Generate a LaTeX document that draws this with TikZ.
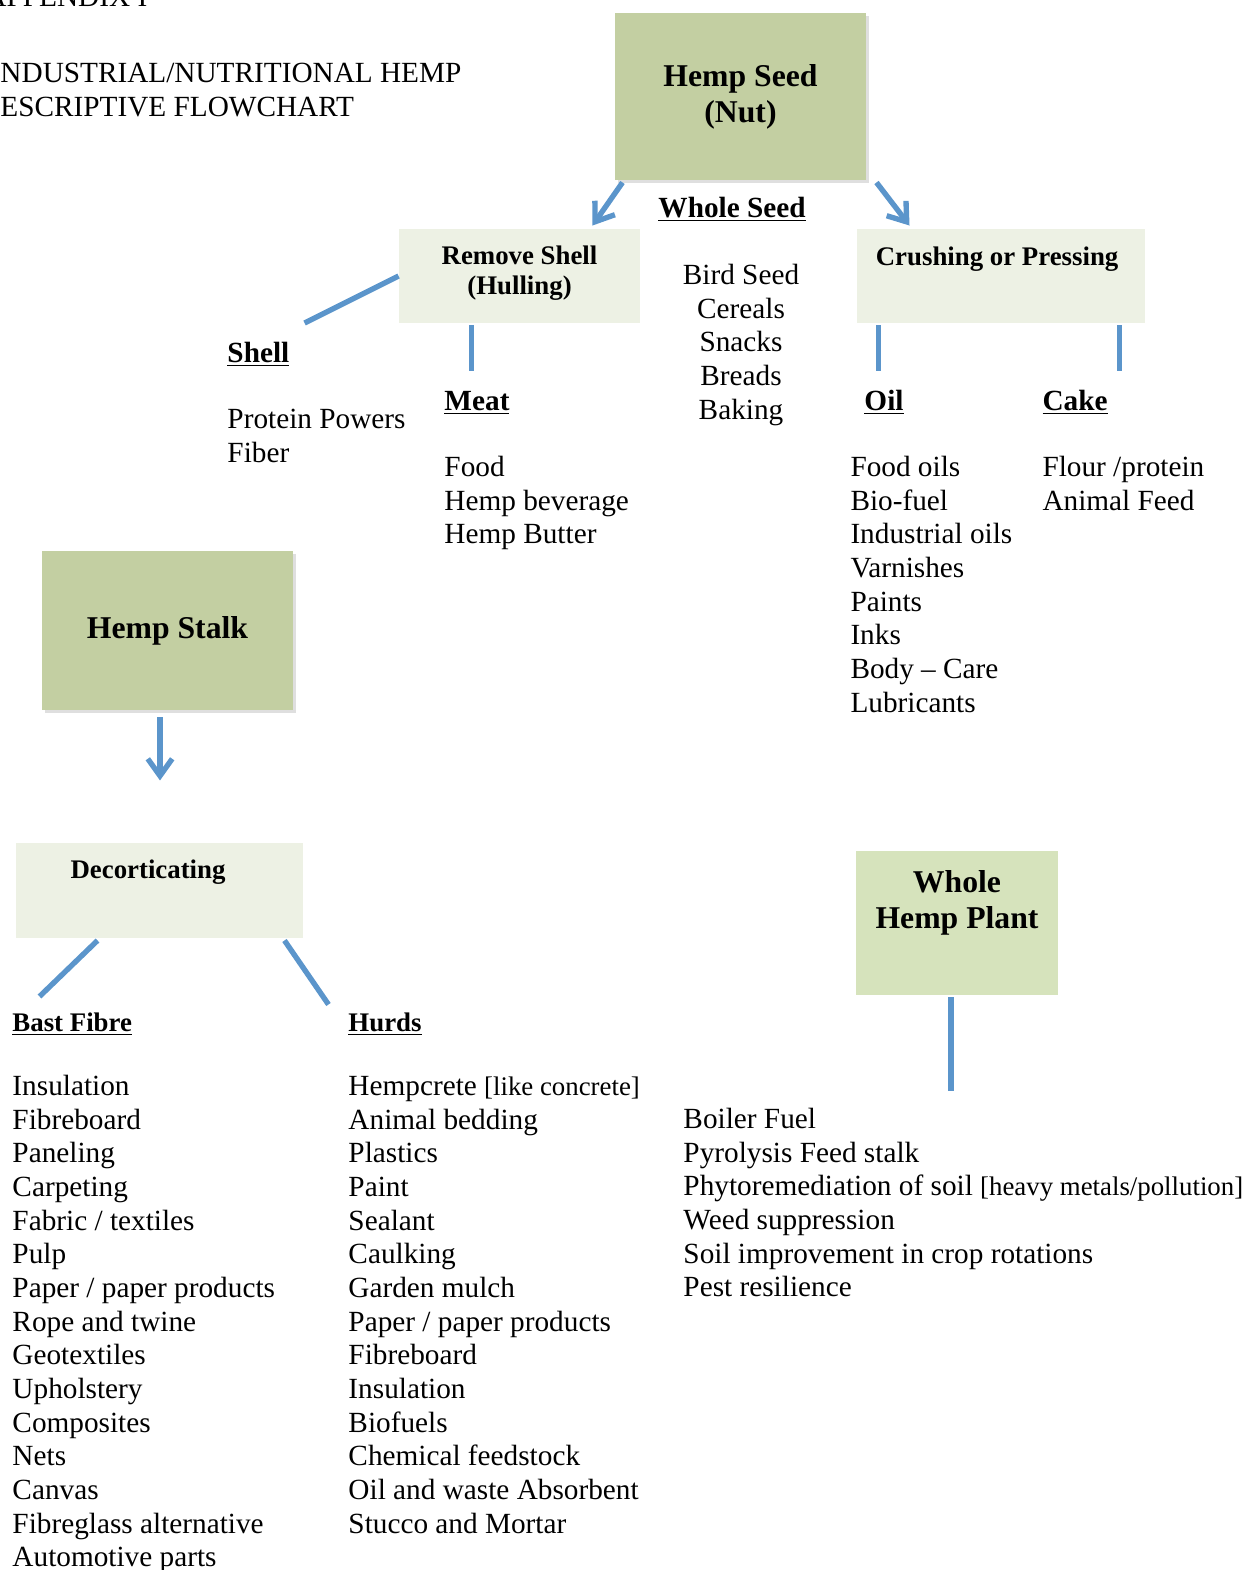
\documentclass[tikz,border=0pt]{standalone}
\usepackage{fontspec}
\setmainfont{Liberation Serif}
\usetikzlibrary{positioning,calc,arrows.meta,shadows}

\definecolor{seedgreen}{HTML}{C3CFA2}
\definecolor{palegreen}{HTML}{EDF1E4}
\definecolor{plantgreen}{HTML}{D6E3BC}
\definecolor{linkblue}{HTML}{5B95CB}
\def\pxu{0.41pt}

\begin{document}
\begin{tikzpicture}[x=0.41pt, y=-0.41pt,
    darkbox/.style={fill=seedgreen, inner sep=0pt, align=center,
      font=\fontsize{13}{14.8}\selectfont\bfseries,
      drop shadow={shadow xshift=1.2pt, shadow yshift=-1.2pt, opacity=0.25}},
    lightbox/.style={fill=palegreen, inner sep=0pt},
    plantbox/.style={fill=plantgreen, inner sep=0pt},
    boxlabel/.style={inner sep=0pt, align=center, font=\fontsize{11}{12.3}\selectfont\bfseries},
    biglabel/.style={inner sep=0pt, align=center, font=\fontsize{13}{14.8}\selectfont\bfseries},
    head/.style={anchor=base west, inner sep=0pt, font=\fontsize{12}{13.8}\selectfont\bfseries},
    smallhead/.style={head, font=\fontsize{11}{13.8}\selectfont\bfseries},
    items/.style={anchor=north west, inner sep=0pt, align=left, font=\fontsize{12}{13.8}\selectfont},
    title/.style={anchor=base west, inner sep=0pt, font=\fontsize{12}{14}\selectfont},
    link/.style={draw=linkblue, line width=2.2pt},
    arrowlink/.style={link, -{Straight Barb[length=7pt, width=10pt]}}]
  \useasboundingbox (0,0) rectangle (1246,1570);

  % title, cut at the page edge
  \begin{scope}
    \clip (0,0) rectangle (1246,1570);
    \node[title] (appx) at (-15,7) {APPENDIX I};
  \end{scope}
  \node[title] (title1) at (0,83) {NDUSTRIAL/NUTRITIONAL HEMP};
  \node[title] (title2) at (0,117) {ESCRIPTIVE FLOWCHART};

  % seed branch
  \node[darkbox, minimum width=251*\pxu, minimum height=167*\pxu] (seed) at (740.5,96.5) {Hemp Seed\\(Nut)};
  \node[lightbox, minimum width=241*\pxu, minimum height=94*\pxu] (hull) at (519.5,276) {};
  \node[boxlabel, below=7pt of hull.north] (hulltxt) {Remove Shell\\(Hulling)};
  \node[lightbox, minimum width=288*\pxu, minimum height=94*\pxu] (crush) at (1001,276) {};
  \node[boxlabel, below=7.4pt of crush.north, xshift=-1.6pt] (crushtxt) {Crushing or Pressing};

  \node[head] (wholehd) at (658,217) {\underline{Whole Seed}};
  \node[items, anchor=north, align=center] (wholelist) at (741,260.4) {\strut Bird Seed\\Cereals\\Snacks\\Breads\\Baking};
  \node[head] (shellhd) at (227,362) {\underline{Shell}};
  \node[items] (shelllist) at (227,404.4) {\strut Protein Powers\\Fiber};
  \node[head] (meathd) at (444,410) {\underline{Meat}};
  \node[items] (meatlist) at (444,452.4) {\strut Food\\Hemp beverage\\Hemp Butter};
  \node[head] (oilhd) at (864,410) {\underline{Oil}};
  \node[items] (oillist) at (850,452.4) {\strut Food oils\\Bio-fuel\\Industrial oils\\Varnishes\\Paints\\Inks\\Body -- Care\\Lubricants};
  \node[head] (cakehd) at (1042,410) {\underline{Cake}};
  \node[items] (cakelist) at (1042,452.4) {\strut Flour /protein\\Animal Feed};

  \draw[arrowlink] ($(seed.south west)+(8,2)$) -- ($(hull.north east)+(-48,-3)$);
  \draw[arrowlink] ($(seed.south east)+(10,2)$) -- ($(crush.north west)+(53,-3)$);
  \draw[link] (hull.west) -- ++(-94,47);
  \draw[link] ($(hull.south)+(-48,2)$) -- ++(0,46);
  \draw[link] ($(crush.south west)+(22,2)$) -- ++(0,46);
  \draw[link] ($(crush.south east)+(-26,2)$) -- ++(0,46);

  % stalk branch
  \node[darkbox, minimum width=251*\pxu, minimum height=159*\pxu] (stalk) at (167.5,630.5) {Hemp Stalk};
  \node[lightbox, minimum width=287*\pxu, minimum height=95*\pxu] (decort) at (159.5,890.5) {};
  \node[boxlabel, below=7pt of decort.north, xshift=-4.7pt] (decorttxt) {Decorticating};
  \draw[arrowlink] ($(stalk.south)+(-7.5,7)$) -- ++(0,63);
  \draw[link] ($(decort.south west)+(82,2)$) -- ++(-58,56);
  \draw[link] ($(decort.south east)+(-19,2)$) -- ++(44,64);

  \node[smallhead] (basthd) at (12,1031) {\underline{Bast Fibre}};
  \node[items] (bastlist) at (12,1071.4) {\strut Insulation\\Fibreboard\\Paneling\\Carpeting\\Fabric / textiles\\Pulp\\Paper / paper products\\Rope and twine\\Geotextiles\\Upholstery\\Composites\\Nets\\Canvas\\Fibreglass alternative\\Automotive parts};
  \node[smallhead] (hurdshd) at (348,1031) {\underline{Hurds}};
  \node[items] (hurdslist) at (348,1071.4) {\strut Hempcrete {\fontsize{11}{13.8}\selectfont[like concrete]}\\Animal bedding\\Plastics\\Paint\\Sealant\\Caulking\\Garden mulch\\Paper / paper products\\Fibreboard\\Insulation\\Biofuels\\Chemical feedstock\\Oil and waste Absorbent\\Stucco and Mortar};

  % whole plant
  \node[plantbox, minimum width=202*\pxu, minimum height=144*\pxu] (plant) at (957,923) {};
  \node[biglabel, below=7.8pt of plant.north] (planttxt) {Whole\\Hemp Plant};
  \draw[link] ($(plant.south)+(-6,2)$) -- ++(0,93);
  \node[items] (plantlist) at (683,1104.4) {\strut Boiler Fuel\\Pyrolysis Feed stalk\\Phytoremediation of soil {\fontsize{11}{13.8}\selectfont[heavy metals/pollution]}\\Weed suppression\\Soil improvement in crop rotations\\Pest resilience};
\end{tikzpicture}
\end{document}
